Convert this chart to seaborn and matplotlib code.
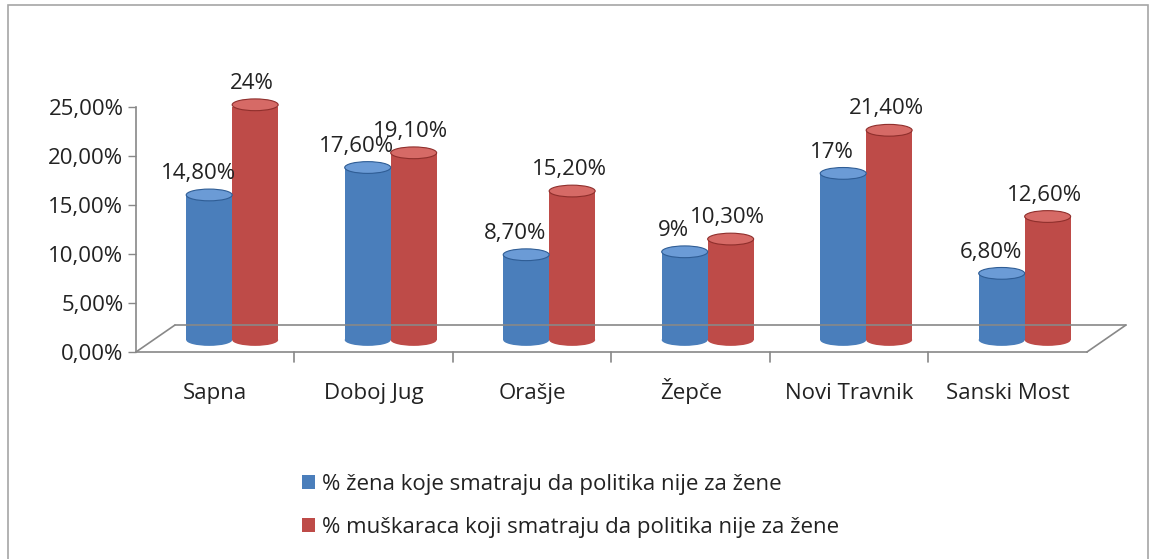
import pandas as pd
import matplotlib.pyplot as plt
import matplotlib.transforms as mtransforms
import seaborn as sns
from matplotlib.patches import Ellipse, Rectangle

# Data
opcine = ['Sapna', 'Doboj Jug', 'Orašje', 'Žepče', 'Novi Travnik', 'Sanski Most']
zene = [0.148, 0.176, 0.087, 0.09, 0.17, 0.068]
muskarci = [0.24, 0.191, 0.152, 0.103, 0.214, 0.126]
zene_labels = ['14,80%', '17,60%', '8,70%', '9%', '17%', '6,80%']
muskarci_labels = ['24%', '19,10%', '15,20%', '10,30%', '21,40%', '12,60%']
yticks = [0, 0.05, 0.10, 0.15, 0.20, 0.25]
ytick_labels = ['0,00%', '5,00%', '10,00%', '15,00%', '20,00%', '25,00%']
serije = ['% žena koje smatraju da politika nije za žene',
          '% muškaraca koji smatraju da politika nije za žene']

df = pd.DataFrame({
    'Opcina': opcine * 2,
    'Vrijednost': zene + muskarci,
    'Serija': [serije[0]] * len(opcine) + [serije[1]] * len(opcine),
})

sns.set_style('white')
plt.rcParams['font.family'] = ['Open Sans', 'DejaVu Sans']

blue = '#4a7ebb'
red = '#be4b48'
fs = 16

fig = plt.figure(figsize=(11.52, 5.59), dpi=100)
ax = fig.add_axes([0.118, 0.3703, 0.8255, 0.4383])

sns.barplot(data=df, x='Opcina', y='Vrijednost', hue='Serija',
            palette=[blue, red], width=0.58, ax=ax, saturation=1,
            edgecolor='none', legend=True)

ax.set_ylim(0, 0.25)
ax.set_xlim(-0.5, 5.5)
ax.set_yticks(yticks)
ax.set_yticklabels(ytick_labels, fontsize=fs, color='#222222')
ax.set_xticks(range(len(opcine)))
ax.set_xticklabels(opcine, fontsize=fs, color='#222222', va='baseline')
ax.tick_params(axis='x', length=0, pad=34)
ax.tick_params(axis='y', length=6, width=1, color='#888888', left=True, pad=3)
ax.set_xlabel('')
ax.set_ylabel('')
for s in ['top', 'right']:
    ax.spines[s].set_visible(False)
for s in ['left', 'bottom']:
    ax.spines[s].set_color('#888888')
    ax.spines[s].set_linewidth(1.2)

# depth offset of the 3D look: bars stand in the middle of the floor
depth = mtransforms.ScaledTranslation(0.17, 0.12, fig.dpi_scale_trans)

# cylinder caps and value labels, taken from the drawn bars
dark = {blue: '#2f5d95', red: '#8f2f2c'}
light = {blue: '#6b9bd6', red: '#d66a66'}
cap_h = 0.012
labels_all = zene_labels + muskarci_labels
bars = [p for p in ax.patches if p.get_height() > 0]
for i, p in enumerate(bars):
    p.set_transform(ax.transData + depth)
    x0, w, h = p.get_x(), p.get_width(), p.get_height()
    col = blue if i < len(opcine) else red
    ax.add_patch(Ellipse((x0 + w / 2, 0), w, cap_h, facecolor=col, edgecolor='none',
                         zorder=2.5, clip_on=False, transform=ax.transData + depth))
    ax.add_patch(Ellipse((x0 + w / 2, h), w, cap_h, facecolor=light[col],
                         edgecolor=dark[col], lw=0.8, zorder=3, clip_on=False,
                         transform=ax.transData + depth))
    shift = -0.07 if i < len(opcine) else -0.02
    ax.text(x0 + w / 2 + shift, h + 0.011, labels_all[i], ha='center', va='bottom',
            fontsize=fs, color='#222222', zorder=4, transform=ax.transData + depth)

# 3D floor outline
dx, dy = 0.041, 0.11
floor_kw = dict(transform=ax.transAxes, color='#888888', lw=1.2, clip_on=False, zorder=1)
ax.plot([0, dx], [0, dy], **floor_kw)
ax.plot([dx, 1 + dx], [dy, dy], **floor_kw)
ax.plot([1, 1 + dx], [0, dy], **floor_kw)
for k in range(1, len(opcine)):
    ax.plot([k / len(opcine)] * 2, [0, -0.04], **floor_kw)

handles, _ = ax.get_legend_handles_labels()
ax.get_legend().remove()
fig.legend(handles, serije, loc='upper left', bbox_to_anchor=(0.262, 0.152),
           frameon=False, fontsize=fs, handlelength=0.6, handleheight=0.6,
           handletextpad=0.3, labelspacing=1.0, labelcolor='#222222',
           borderaxespad=0, borderpad=0)

# outer chart border
fig.patches.append(Rectangle((0.007, -0.02), 0.9895, 1.011, transform=fig.transFigure,
                             fill=False, edgecolor='#a6a6a6', lw=1.2))

fig.savefig('out.png', dpi=100, facecolor='white')
